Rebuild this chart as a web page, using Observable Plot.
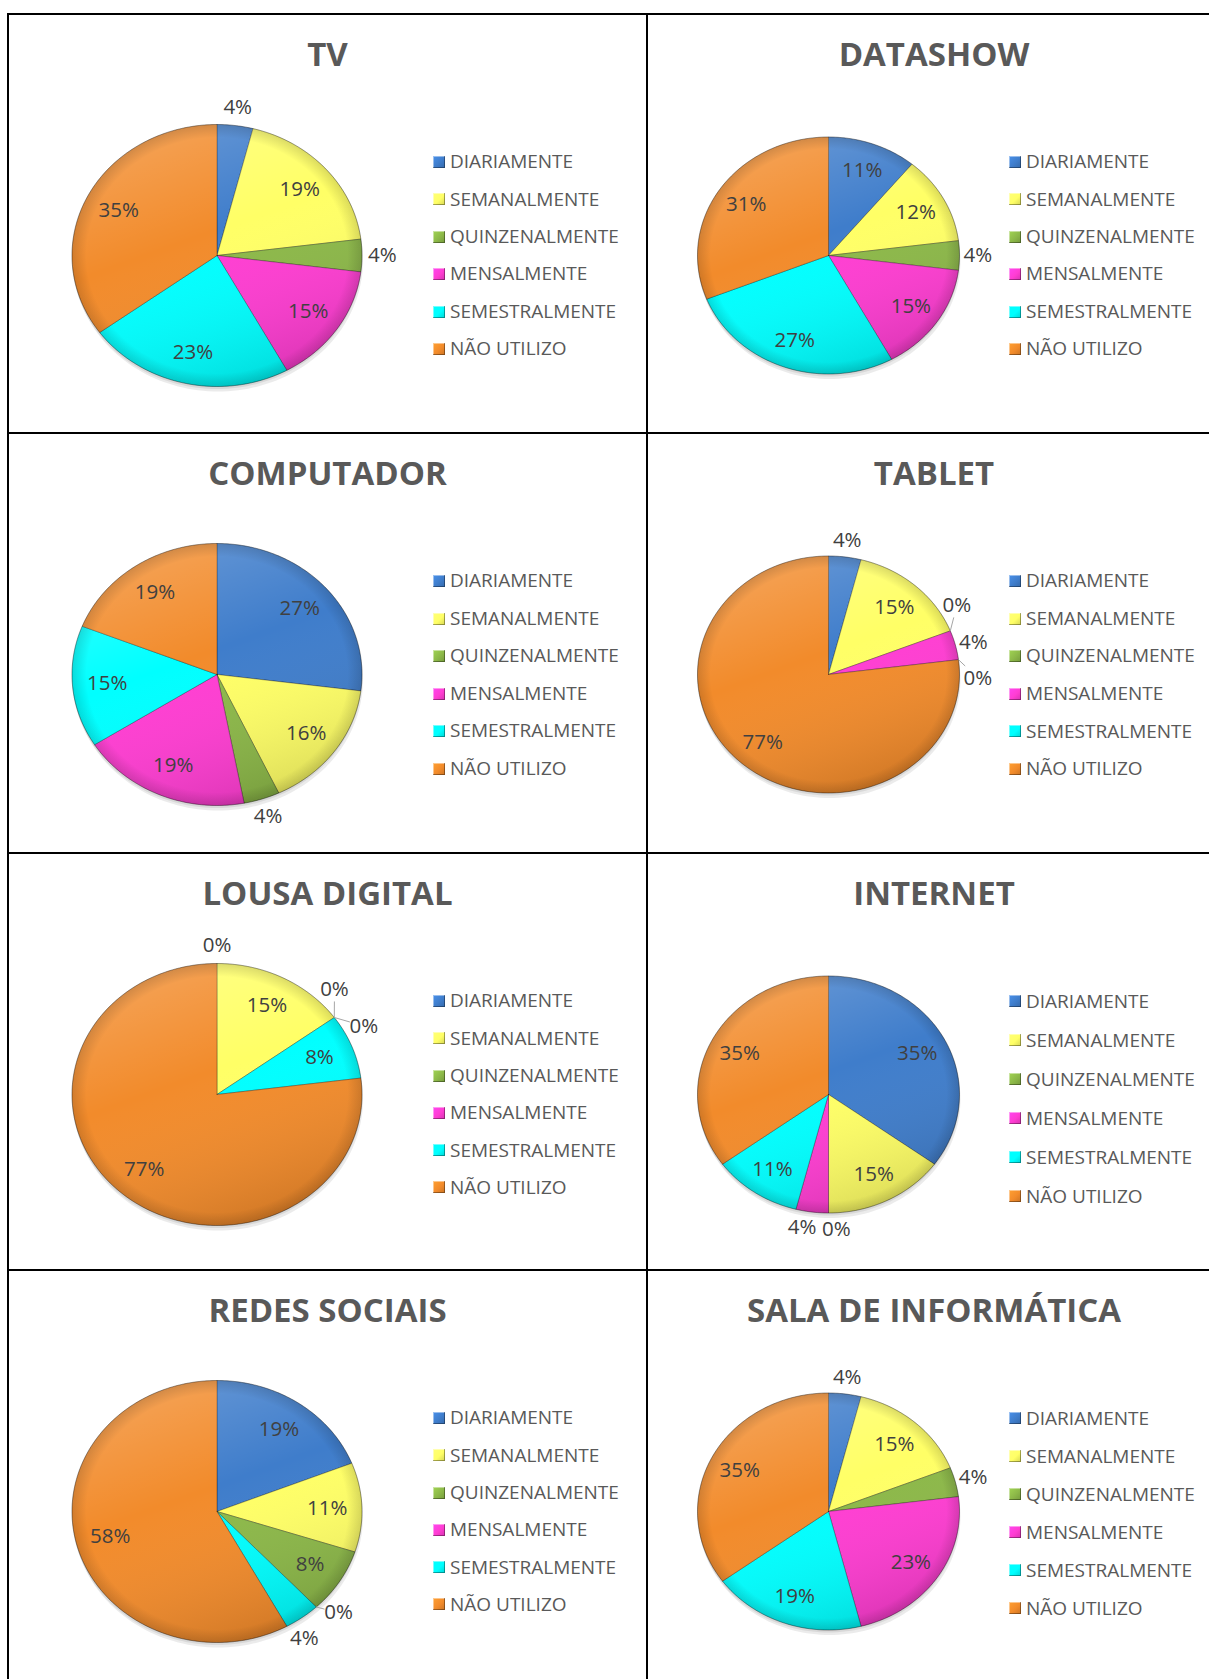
<!DOCTYPE html>
<html>
<head>
<meta charset="utf-8">
<script src="https://cdn.jsdelivr.net/npm/d3@7"></script>
<script src="https://cdn.jsdelivr.net/npm/@observablehq/plot@0.6"></script>
<style>
  html, body { margin: 0; padding: 0; background: #fff; }
  body { width: 1209px; height: 1679px; overflow: hidden; position: relative; font-family: "Open Sans", sans-serif; }
  #root { position: absolute; left: 0; top: 0; width: 1209px; height: 1679px; }
  .cell { position: absolute; box-sizing: border-box; border: 2px solid #000; background: #fff; }
  .title { position: absolute; left: 0; right: 0; top: 0; text-align: center; font-weight: 700; font-size: 33px; color: #595959; white-space: nowrap; }
  .chart { position: absolute; left: 0; }
  .legend { position: absolute; }
  .item { display: flex; align-items: center; font-size: 19px; color: #595959; white-space: nowrap; }
  .sw { width: 12px; height: 12px; margin-right: 5px; box-sizing: border-box; box-shadow: inset -1px -1px 0 rgba(0,0,0,0.35), inset 1px 1px 0 rgba(255,255,255,0.45); }
</style>
</head>
<body>
<svg width="0" height="0" style="position:absolute">
  <defs>
    <linearGradient id="shade" x1="0.2" y1="0" x2="0.6" y2="1">
      <stop offset="0" stop-color="#ffffff" stop-opacity="0.22"/>
      <stop offset="0.45" stop-color="#ffffff" stop-opacity="0"/>
      <stop offset="1" stop-color="#000000" stop-opacity="0.13"/>
    </linearGradient>
    <radialGradient id="rim" cx="0.5" cy="0.5" r="0.5">
      <stop offset="0.9" stop-color="#000000" stop-opacity="0"/>
      <stop offset="1" stop-color="#000000" stop-opacity="0.14"/>
    </radialGradient>
  </defs>
</svg>
<div id="root"></div>
<script>
// ---------- data ----------
const categories = ["DIARIAMENTE", "SEMANALMENTE", "QUINZENALMENTE", "MENSALMENTE", "SEMESTRALMENTE", "NÃO UTILIZO"];
const sliceColors = ["#3F7DCB", "#FFFF66", "#8CB848", "#FF3DD2", "#00FFFF", "#F28B2B"];
const chartTitles = ["TV", "DATASHOW", "COMPUTADOR", "TABLET", "LOUSA DIGITAL", "INTERNET", "REDES SOCIAIS", "SALA DE INFORMÁTICA"];
const tv              = [4, 19, 4, 15, 23, 35];
const datashow        = [11, 12, 4, 15, 27, 31];
const computador      = [27, 16, 4, 19, 15, 19];
const tablet          = [4, 15, 0, 4, 0, 77];
const lousaDigital    = [0, 15, 0, 0, 8, 77];
const internet        = [35, 15, 0, 4, 11, 35];
const redesSociais    = [19, 11, 8, 0, 4, 58];
const salaInformatica = [4, 15, 4, 23, 19, 35];
const chartValues = [tv, datashow, computador, tablet, lousaDigital, internet, redesSociais, salaInformatica];

// ---------- layout ----------
const COLS = [
  {x: 8,   w: 641, cx: 208.5, rx: 145, ry: 131,   lx: 426},
  {x: 647, w: 576, cx: 181,   rx: 131, ry: 118.5, lx: 363}
];
const ROWS = [{y: 14, h: 421}, {y: 433, h: 422}, {y: 853, h: 419}, {y: 1270, h: 422}];
const TITLE_H = 78;
const CENTER_Y = 241;
const LEGEND_FIRST = 149;
const LEGEND_GAP = [37.4, 37.4, 37.5, 37.6, 37.3, 39, 37.3, 38];
const LABEL_SIZE = 20.5;

const TAU = Math.PI * 2;

function buildPie(values, rx, ry, cx, cy) {
  const total = d3.sum(values);
  let acc = 0;
  const slices = values.map((v, i) => {
    const a0 = acc / total * TAU; acc += v; const a1 = acc / total * TAU;
    return {i, v, cat: categories[i], a0, a1, mid: (a0 + a1) / 2};
  });
  const pts = [];
  for (const s of slices) {
    if (s.v <= 0) continue;
    const n = Math.max(2, Math.ceil((s.a1 - s.a0) / (Math.PI / 180)));
    pts.push({cat: s.cat, x: 0, y: 0});
    for (let k = 0; k <= n; k++) {
      const a = s.a0 + (s.a1 - s.a0) * k / n;
      pts.push({cat: s.cat, x: Math.sin(a), y: Math.cos(a)});
    }
    pts.push({cat: s.cat, x: 0, y: 0});
  }
  const ring = d3.range(0, 361, 2).map(d => ({x: Math.sin(d * Math.PI / 180), y: Math.cos(d * Math.PI / 180)}));

  const labels = slices.map(s => {
    const outside = s.v < 6;
    const txt = s.v + "%";
    return {...s, outside, r: outside ? 1.14 : 0.76, ang: s.mid, text: txt, w: txt.length * 12 + 2};
  });
  const pos = l => [cx + l.r * rx * Math.sin(l.ang), cy - l.r * ry * Math.cos(l.ang)];
  const outs = labels.filter(l => l.outside);
  for (let it = 0; it < 800; it++) {
    let moved = false;
    for (let a = 0; a < outs.length; a++) for (let b = a + 1; b < outs.length; b++) {
      const A = outs[a], B = outs[b];
      const [ax, ay] = pos(A), [bx, by] = pos(B);
      if (Math.abs(ax - bx) < (A.w + B.w) / 2 + 8 && Math.abs(ay - by) < 36) {
        const dir = (B.ang - A.ang) > Math.PI ? -1 : 1;
        A.ang -= 0.004 * dir; B.ang += 0.004 * dir; moved = true;
      }
    }
    if (!moved) break;
  }
  const textData = labels.map(l => {
    const [px, py] = pos(l);
    return {text: l.text, x: (px - cx) / rx, y: (cy - py) / ry};
  });
  const leaders = [];
  for (const l of outs) {
    if (l.v !== 0) continue;
    const [px, py] = pos(l);
    const d0x = cx + l.r * rx * Math.sin(l.mid), d0y = cy - l.r * ry * Math.cos(l.mid);
    if (Math.hypot(px - d0x, py - d0y) < 10) continue;
    const sx = cx + rx * Math.sin(l.mid), sy = cy - ry * Math.cos(l.mid);
    const dx = sx - px, dy = sy - py;
    const t = Math.min((l.w / 2 + 1) / Math.max(Math.abs(dx), 1e-9), 12 / Math.max(Math.abs(dy), 1e-9));
    if (t >= 1) continue;
    const ex = px + dx * t, ey = py + dy * t;
    leaders.push({x1: (sx - cx) / rx, y1: (cy - sy) / ry, x2: (ex - cx) / rx, y2: (cy - ey) / ry});
  }
  return {pts, ring, textData, leaders};
}

const root = document.getElementById("root");

chartValues.forEach((values, k) => {
  const col = COLS[k % 2], row = ROWS[Math.floor(k / 2)];
  const cell = document.createElement("div");
  cell.className = "cell";
  cell.style.left = (col.x - 1) + "px";
  cell.style.top = (row.y - 1) + "px";
  cell.style.width = col.w + "px";
  cell.style.height = row.h + "px";
  root.appendChild(cell);

  const title = document.createElement("div");
  title.className = "title";
  title.style.height = TITLE_H + "px";
  title.style.lineHeight = TITLE_H + "px";
  title.textContent = chartTitles[k];
  cell.appendChild(title);

  const W = col.w - 4, H = row.h - 4 - TITLE_H;
  const cx = col.cx - 1, cy = CENTER_Y - 1 - TITLE_H;
  const {pts, ring, textData, leaders} = buildPie(values, col.rx, col.ry, cx, cy);

  const chart = Plot.plot({
    width: W, height: H, margin: 0,
    x: {domain: [-1, 1], range: [cx - col.rx, cx + col.rx], axis: null},
    y: {domain: [-1, 1], range: [cy + col.ry, cy - col.ry], axis: null},
    color: {domain: categories, range: sliceColors},
    style: {fontFamily: "'Open Sans', sans-serif", background: "transparent", overflow: "visible"},
    marks: [
      Plot.line(ring, {x: "x", y: "y", fill: "#000", fillOpacity: 0.08, stroke: "none", dy: 5, dx: 1}),
      Plot.line(ring, {x: "x", y: "y", fill: "#000", fillOpacity: 0.08, stroke: "none", dy: 2.5}),
      Plot.line(pts, {x: "x", y: "y", z: "cat", fill: "cat", stroke: "rgba(0,0,0,0.32)", strokeWidth: 0.9, strokeLinejoin: "round"}),
      Plot.line(ring, {x: "x", y: "y", fill: "url(#shade)", stroke: "none"}),
      Plot.line(ring, {x: "x", y: "y", fill: "url(#rim)", stroke: "rgba(0,0,0,0.18)", strokeWidth: 0.8}),
      Plot.link(leaders, {x1: "x1", y1: "y1", x2: "x2", y2: "y2", stroke: "#A6A6A6", strokeWidth: 1}),
      Plot.text(textData, {x: "x", y: "y", text: "text", fill: "#404040", fontSize: LABEL_SIZE, fontFamily: "'Open Sans', sans-serif"})
    ]
  });
  const holder = document.createElement("div");
  holder.className = "chart";
  holder.style.top = TITLE_H + "px";
  holder.appendChild(chart);
  cell.appendChild(holder);

  const gap = LEGEND_GAP[k];
  const legend = document.createElement("div");
  legend.className = "legend";
  legend.style.left = (col.lx - 2) + "px";
  legend.style.top = (LEGEND_FIRST - 2 - gap / 2) + "px";
  categories.forEach((c, i) => {
    const it = document.createElement("div");
    it.className = "item";
    it.style.height = gap + "px";
    it.style.lineHeight = gap + "px";
    const sw = document.createElement("span");
    sw.className = "sw";
    const base = d3.color(sliceColors[i]);
    sw.style.background = `linear-gradient(135deg, ${base.brighter(0.4)} 0%, ${base} 55%, ${base.darker(0.5)} 100%)`;
    it.appendChild(sw);
    const tx = document.createElement("span");
    tx.textContent = c;
    it.appendChild(tx);
    legend.appendChild(it);
  });
  cell.appendChild(legend);
});
</script>
</body>
</html>
